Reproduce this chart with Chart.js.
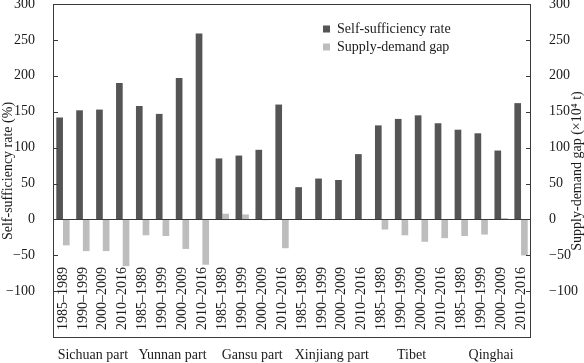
<!DOCTYPE html>
<html>
<head>
<meta charset="utf-8">
<script src="https://cdn.jsdelivr.net/npm/chart.js@4.4.1/dist/chart.umd.min.js"></script>
<style>
html,body{margin:0;padding:0;background:#fff;}
#wrap{width:584px;height:363px;}
</style>
</head>
<body>
<div id="wrap"><canvas id="c" width="584" height="363"></canvas></div>
<script>
const periods = ["1985–1989","1990–1999","2000–2009","2010–2016"];
const groups = ["Sichuan part","Yunnan part","Gansu part","Xinjiang part","Tibet","Qinghai"];
const categories = [];
groups.forEach(() => periods.forEach(p => categories.push(p)));
const selfRate = [142,152,153,190, 158,147,197,259, 85,89,97,160, 45,57,55,91, 131,140,145,134, 125,120,96,162];
const gap = [-36,-44,-44,-65, -22,-23,-41,-63, 8,7,-1,-40, 0,0,0,0, -14,-22,-31,-26, -23,-21,2,-50];
const tickVals = [-100,-50,0,50,100,150,200,250,300];
const yMin = -165, yMax = 300;
const leftTitle = "Self-sufficiency rate (%)";
const rightTitle = "Supply-demand gap (×10⁴ t)";

const FONT = "'Liberation Serif', 'Times New Roman', serif";
const TXT = "#1a1a1a";
const LINE = "#3a3a3a";

const fmt = v => String(v).replace('-', '\u2212');

const framePlugin = {
  id: 'frame',
  afterDraw(chart) {
    const ctx = chart.ctx, a = chart.chartArea;
    ctx.save();
    ctx.setLineDash([]);
    ctx.globalAlpha = 1;
    ctx.fillStyle = LINE;
    const L = Math.round(a.left), R = Math.round(a.right), T = Math.round(a.top), B = Math.round(a.bottom);
    // frame (filled 1px rects)
    ctx.fillRect(L, T, R - L, 1);
    ctx.fillRect(L, B - 1, R - L, 1);
    ctx.fillRect(L, T, 1, B - T);
    ctx.fillRect(R - 1, T, 1, B - T);
    // zero line
    const y0 = Math.round(chart.scales.y.getPixelForValue(0));
    ctx.fillRect(L, y0, R - L, 1);
    // inward ticks
    ['y','y2'].forEach(id => {
      const s = chart.scales[id];
      s.ticks.forEach(t => {
        const py = Math.round(s.getPixelForValue(t.value));
        if (id === 'y') ctx.fillRect(L, py, 5, 1);
        else ctx.fillRect(R - 5, py, 5, 1);
      });
    });
    // axis titles
    ctx.fillStyle = TXT;
    ctx.font = "14px " + FONT;
    ctx.textAlign = 'center';
    ctx.textBaseline = 'middle';
    const cy = (a.top + a.bottom) / 2;
    ctx.save(); ctx.translate(8, cy); ctx.rotate(-Math.PI/2); ctx.fillText(leftTitle, 0, 0); ctx.restore();
    ctx.save(); ctx.translate(577, cy); ctx.rotate(-Math.PI/2); ctx.fillText(rightTitle, 0, 0); ctx.restore();
    // legend
    ctx.textAlign = 'left';
    chart.data.datasets.forEach((ds, i) => {
      const yy = 29 + i * 18;
      ctx.fillStyle = ds.backgroundColor;
      ctx.fillRect(323, yy - 3.5, 7, 7);
      ctx.fillStyle = TXT;
      ctx.fillText(ds.label, 337, yy);
    });
    ctx.restore();
  }
};

const yCommon = {
  type: 'linear', min: yMin, max: yMax,
  grid: { display: false },
  border: { display: false },
  afterBuildTicks: s => { s.ticks = tickVals.map(v => ({ value: v })); },
  ticks: { font: { family: FONT, size: 14 }, color: TXT, padding: 10, callback: v => fmt(v) },
  afterFit: s => { s.width = 53; s.paddingTop = 0; s.paddingBottom = 0; }
};

new Chart(document.getElementById('c'), {
  type: 'bar',
  data: {
    labels: categories,
    datasets: [
      { label: 'Self-sufficiency rate', data: selfRate, backgroundColor: '#555555', yAxisID: 'y', xAxisID: 'x',
        categoryPercentage: 0.67, barPercentage: 1.0 },
      { label: 'Supply-demand gap', data: gap, backgroundColor: '#bdbdbd', yAxisID: 'y2', xAxisID: 'x',
        categoryPercentage: 0.67, barPercentage: 1.0 }
    ]
  },
  options: {
    responsive: false,
    devicePixelRatio: 1,
    animation: false,
    layout: { padding: { top: 4, left: 0, right: 0, bottom: 0 } },
    plugins: { legend: { display: false }, tooltip: { enabled: false } },
    scales: {
      x: {
        type: 'category', position: 'bottom', weight: 0,
        grid: { display: false, drawTicks: false },
        border: { display: false },
        ticks: { autoSkip: false, minRotation: 90, maxRotation: 90, padding: -71,
                 font: { family: FONT, size: 14 }, color: TXT },
        afterFit: s => {
          s.height = 0; s.paddingLeft = 0; s.paddingRight = 0;
          s._computeLabelArea = () => undefined;
        }
      },
      x2: {
        type: 'category', position: 'bottom', weight: 1, offset: true,
        labels: groups,
        grid: { display: false, drawTicks: false },
        border: { display: false },
        ticks: { autoSkip: false, maxRotation: 0, padding: 9,
                 font: { family: FONT, size: 14 }, color: TXT },
        afterFit: s => { s.height = 25; s.paddingLeft = 0; s.paddingRight = 0; }
      },
      y: Object.assign({}, yCommon, { position: 'left' }),
      y2: Object.assign({}, yCommon, { position: 'right' })
    }
  },
  plugins: [framePlugin]
});
</script>
</body>
</html>
